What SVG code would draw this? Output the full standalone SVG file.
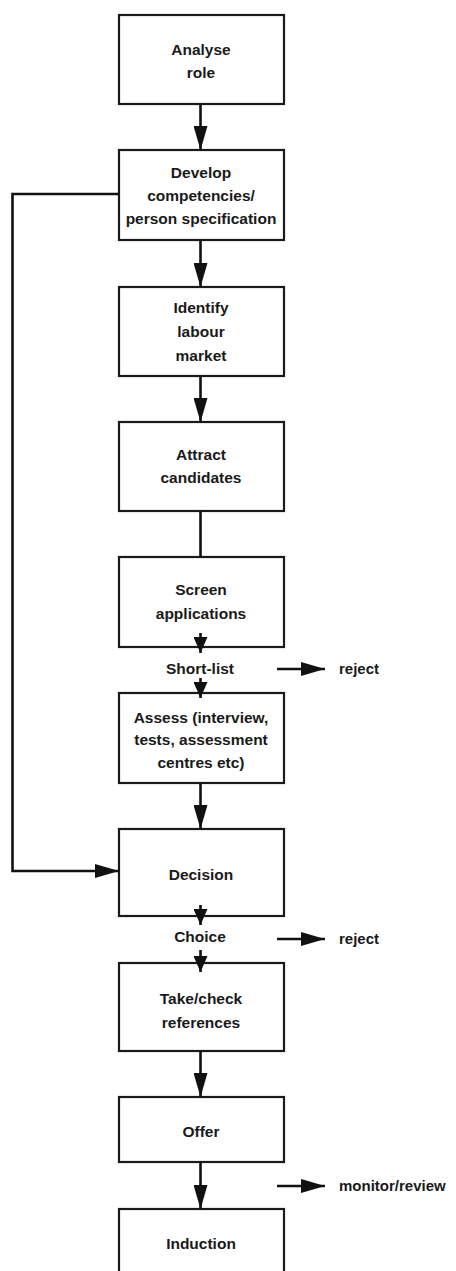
<svg xmlns="http://www.w3.org/2000/svg" width="456" height="1271" viewBox="0 0 456 1271">
<style>
.box{fill:#fff;stroke:#1a1a1a;stroke-width:2.2}
.t{font-family:"Liberation Sans",Arial,sans-serif;font-size:15.5px;font-weight:bold;fill:#1a1a1a;text-anchor:middle}
.s{font-family:"Liberation Sans",Arial,sans-serif;font-size:15px;font-weight:bold;fill:#1a1a1a;text-anchor:start}
.c{fill:none;stroke:#111;stroke-width:2.6}
</style>
<defs>
<marker id="arr" markerUnits="userSpaceOnUse" viewBox="0 0 24 14" refX="24" refY="7" markerWidth="24" markerHeight="14" orient="auto">
<path d="M0,0 L24,7 L0,14 z" fill="#111"/>
</marker>
<marker id="arrS" markerUnits="userSpaceOnUse" viewBox="0 0 16 14" refX="16" refY="7" markerWidth="16" markerHeight="14" orient="auto">
<path d="M0,0 L16,7 L0,14 z" fill="#111"/>
</marker>
</defs>
<rect width="456" height="1271" fill="#fff"/>
<g id="n1"><rect class="box" x="119" y="15" width="165" height="89"/>
<text class="t" x="201" y="55">Analyse</text><text class="t" x="201" y="78">role</text></g>
<g id="n2"><rect class="box" x="119" y="150" width="165" height="90"/>
<text class="t" x="201" y="178">Develop</text><text class="t" x="201" y="201">competencies/</text><text class="t" x="201" y="224">person specification</text></g>
<g id="n3"><rect class="box" x="119" y="287" width="165" height="89"/>
<text class="t" x="201" y="313">Identify</text><text class="t" x="201" y="337">labour</text><text class="t" x="201" y="361">market</text></g>
<g id="n4"><rect class="box" x="119" y="422" width="165" height="89"/>
<text class="t" x="201" y="460">Attract</text><text class="t" x="201" y="483">candidates</text></g>
<g id="n5"><rect class="box" x="119" y="557" width="165" height="90"/>
<text class="t" x="201" y="595">Screen</text><text class="t" x="201" y="619">applications</text></g>
<g id="l1"><text class="t" x="200" y="674">Short-list</text></g>
<g id="r1"><text class="s" x="339" y="674">reject</text></g>
<g id="n6"><rect class="box" x="119" y="693" width="165" height="90"/>
<text class="t" x="201" y="723">Assess (interview,</text><text class="t" x="201" y="745">tests, assessment</text><text class="t" x="201" y="768">centres etc)</text></g>
<g id="n7"><rect class="box" x="119" y="829" width="165" height="87"/>
<text class="t" x="201" y="880">Decision</text></g>
<g id="l2"><text class="t" x="200" y="942">Choice</text></g>
<g id="r2"><text class="s" x="339" y="944">reject</text></g>
<g id="n8"><rect class="box" x="119" y="963" width="165" height="88"/>
<text class="t" x="201" y="1004">Take/check</text><text class="t" x="201" y="1028">references</text></g>
<g id="n9"><rect class="box" x="119" y="1097" width="165" height="65"/>
<text class="t" x="201" y="1137">Offer</text></g>
<g id="r3"><text class="s" x="339" y="1191">monitor/review</text></g>
<g id="n10"><rect class="box" x="119" y="1209" width="165" height="80"/>
<text class="t" x="201" y="1249">Induction</text></g>
<g id="connectors">
<line class="c" x1="200.5" y1="104" x2="200.5" y2="150" marker-end="url(#arr)"/>
<line class="c" x1="200.5" y1="240" x2="200.5" y2="287" marker-end="url(#arr)"/>
<line class="c" x1="200.5" y1="376" x2="200.5" y2="422" marker-end="url(#arr)"/>
<line class="c" x1="200.5" y1="511" x2="200.5" y2="557"/>
<line class="c" x1="200.5" y1="633" x2="200.5" y2="653" marker-end="url(#arrS)"/>
<line class="c" x1="200.5" y1="678" x2="200.5" y2="698" marker-end="url(#arrS)"/>
<line class="c" x1="200.5" y1="783" x2="200.5" y2="829" marker-end="url(#arr)"/>
<line class="c" x1="200.5" y1="905" x2="200.5" y2="925" marker-end="url(#arrS)"/>
<line class="c" x1="200.5" y1="950" x2="200.5" y2="972" marker-end="url(#arrS)"/>
<line class="c" x1="200.5" y1="1051" x2="200.5" y2="1097" marker-end="url(#arr)"/>
<line class="c" x1="200.5" y1="1162" x2="200.5" y2="1209" marker-end="url(#arr)"/>
<polyline class="c" points="119,194 12.5,194 12.5,871 119,871" marker-end="url(#arr)"/>
<line class="c" x1="277" y1="669" x2="325" y2="669" marker-end="url(#arr)"/>
<line class="c" x1="277" y1="939" x2="325" y2="939" marker-end="url(#arr)"/>
<line class="c" x1="277" y1="1186" x2="325" y2="1186" marker-end="url(#arr)"/>
</g>
</svg>
